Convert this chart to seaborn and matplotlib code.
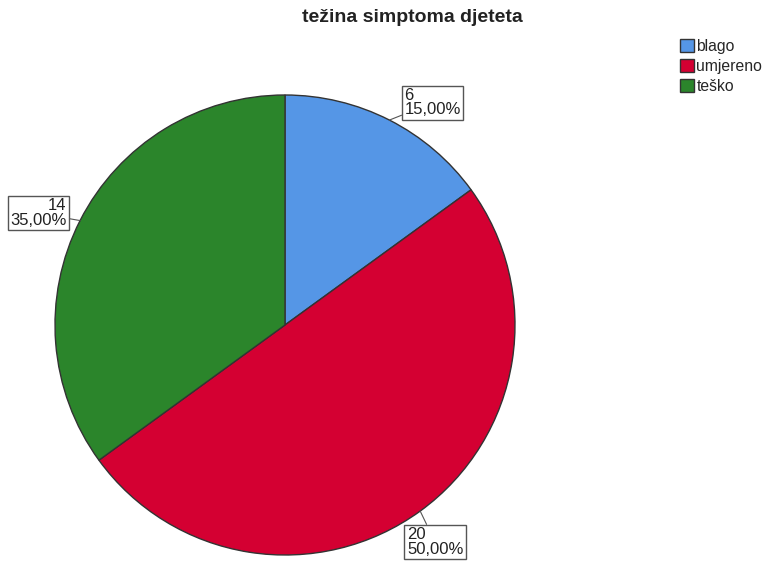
"""
Pie chart: težina simptoma djeteta
"""

import numpy as np
import matplotlib
matplotlib.use('Agg')
import matplotlib.pyplot as plt
import seaborn as sns

# Data
categories = ['blago', 'umjereno', 'teško']
counts = [6, 20, 14]
percents = ['15,00%', '50,00%', '35,00%']
colors = ['#5596e6', '#d40032', '#2b852b']

# label text anchors (data coords, pie radius = 1) and alignment
label_pos = [(0.52, 1.03), (0.53, -0.88), (-0.95, 0.55)]
label_ha = ['left', 'left', 'right']

sns.set_theme(style='white')
plt.rcParams['font.family'] = ['Liberation Sans', 'DejaVu Sans']

fig = plt.figure(figsize=(7.66, 5.62), dpi=100)
ax = fig.add_axes([55 / 766, 7 / 562, 460 / 766, 460 / 562])

wedges, _ = ax.pie(counts, colors=colors, startangle=90, counterclock=False,
                   wedgeprops=dict(edgecolor='#333333', linewidth=1.0))
ax.set_xlim(-1, 1)
ax.set_ylim(-1, 1)
ax.set_aspect('equal')
ax.axis('off')

for w, n, p, pos, ha in zip(wedges, counts, percents, label_pos, label_ha):
    mid = np.deg2rad((w.theta1 + w.theta2) / 2)
    edge = (np.cos(mid), np.sin(mid))
    ax.annotate(f'{n}\n{p}', xy=edge, xytext=pos, ha=ha, va='top',
                fontsize=12, linespacing=0.95, color='#222222',
                bbox=dict(boxstyle='square,pad=0.15', fc='white', ec='#555555', lw=1.0),
                arrowprops=dict(arrowstyle='-', color='#555555', lw=0.8,
                                shrinkA=0, shrinkB=0),
                annotation_clip=False)

fig.text(412 / 766, 1 - 18 / 562, 'težina simptoma djeteta', ha='center', va='center',
         fontsize=14, fontweight='bold', color='#222222')

handles = [plt.Rectangle((0, 0), 1, 1, fc=c, ec='#333333', lw=1.0) for c in colors]
fig.legend(handles, categories, loc='upper left', bbox_to_anchor=(680 / 766, 1 - 39 / 562),
           frameon=False, fontsize=11.3, handlelength=0.9, handleheight=0.9,
           handletextpad=0.15, labelspacing=0.33, borderpad=0, borderaxespad=0)

plt.savefig('out.png', dpi=100)
plt.close()
